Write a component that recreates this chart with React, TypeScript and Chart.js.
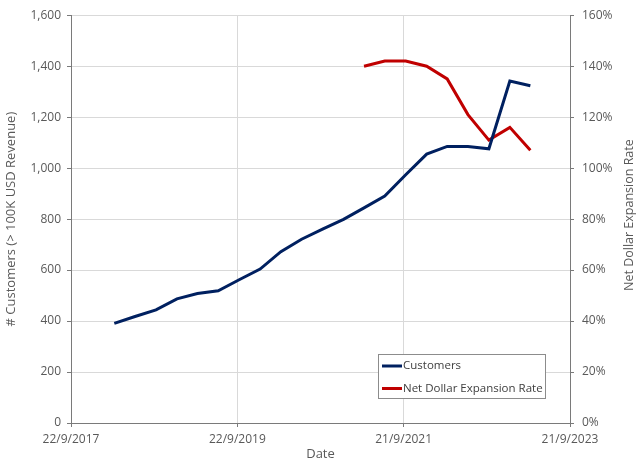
import React, { useEffect, useRef } from "react";
import { Chart, registerables } from "chart.js";

Chart.register(...registerables);

const quarterDates = [
  "2018-03-31", "2018-06-30", "2018-09-30", "2018-12-31",
  "2019-03-31", "2019-06-30", "2019-09-30", "2019-12-31",
  "2020-03-31", "2020-06-30", "2020-09-30", "2020-12-31",
  "2021-03-31", "2021-06-30", "2021-09-30", "2021-12-31",
  "2022-03-31", "2022-06-30", "2022-09-30", "2022-12-31",
  "2023-03-31",
];
const customers = [391, 418, 444, 487, 508, 519, 562, 604, 672, 721, 761, 799, 844, 890, 974, 1055, 1085, 1085, 1076, 1342, 1323];

const ndrDates = [
  "2021-03-31", "2021-06-30", "2021-09-30", "2021-12-31",
  "2022-03-31", "2022-06-30", "2022-09-30", "2022-12-31",
  "2023-03-31",
];
const ndrPercent = [140, 142, 142, 140, 135, 121, 111, 116, 107];

const seriesNames = ["Customers", "Net Dollar Expansion Rate"];
const seriesColors = ["#002060", "#C00000"];
const rightAxisTitle = "Net Dollar Expansion Rate";

const axisStart = "2017-09-22";
const axisSpanDays = 2190;
const axisStepDays = 730;

const DAY = 86400000;
const startMs = Date.parse(axisStart + "T00:00:00Z");
const toDay = (s: string) => Math.round((Date.parse(s + "T00:00:00Z") - startMs) / DAY);
const fmtDay = (d: number) => {
  const dt = new Date(startMs + d * DAY);
  return `${dt.getUTCDate()}/${dt.getUTCMonth() + 1}/${dt.getUTCFullYear()}`;
};

const FONT = "'Open Sans', 'Liberation Sans', sans-serif";
const TICK_COLOR = "#595959";
const AXIS_COLOR = "#7a7a7a";
const GRID_COLOR = "#d9d9d9";

const legendBoxPlugin = {
  id: "legendBox",
  afterDraw(chart: any) {
    const { ctx, chartArea } = chart;
    const w = 167;
    const h = 44;
    const x = chartArea.right - 25 - w;
    const y = chartArea.bottom - 25 - h;
    ctx.save();
    ctx.fillStyle = "#ffffff";
    ctx.fillRect(x, y, w, h);
    ctx.strokeStyle = "#8c8c8c";
    ctx.lineWidth = 1;
    ctx.strokeRect(x + 0.5, y + 0.5, w, h);
    ctx.font = `11.5px ${FONT}`;
    ctx.textBaseline = "middle";
    chart.data.datasets.forEach((ds: any, i: number) => {
      const ly = y + 12 + i * 22.5;
      ctx.strokeStyle = ds.borderColor;
      ctx.lineWidth = 3;
      ctx.beginPath();
      ctx.moveTo(x + 4, ly);
      ctx.lineTo(x + 24, ly);
      ctx.stroke();
      ctx.fillStyle = "#404040";
      ctx.fillText(ds.label, x + 25, ly);
    });
    // right axis title, reading bottom-to-top
    ctx.font = `12.5px ${FONT}`;
    ctx.fillStyle = TICK_COLOR;
    ctx.textAlign = "center";
    ctx.textBaseline = "middle";
    ctx.translate(chart.width - 11, (chartArea.top + chartArea.bottom) / 2 - 4);
    ctx.rotate(-Math.PI / 2);
    ctx.fillText(rightAxisTitle, 0, 0);
    ctx.restore();
  },
};

export default function App() {
  const canvasRef = useRef<HTMLCanvasElement | null>(null);

  useEffect(() => {
    if (!canvasRef.current) return;
    const chart = new Chart(canvasRef.current, {
      type: "line",
      data: {
        datasets: [
          {
            label: seriesNames[0],
            data: quarterDates.map((d, i) => ({ x: toDay(d), y: customers[i] })),
            borderColor: seriesColors[0],
            backgroundColor: seriesColors[0],
            borderWidth: 3,
            pointRadius: 0,
            tension: 0,
            yAxisID: "y",
          },
          {
            label: seriesNames[1],
            data: ndrDates.map((d, i) => ({ x: toDay(d), y: ndrPercent[i] })),
            borderColor: seriesColors[1],
            backgroundColor: seriesColors[1],
            borderWidth: 3,
            pointRadius: 0,
            tension: 0,
            yAxisID: "y1",
          },
        ],
      },
      options: {
        animation: false,
        responsive: false,
        layout: { padding: { top: 13, left: 0, right: 0, bottom: 0 } },
        plugins: {
          legend: { display: false },
          tooltip: { enabled: false },
        },
        scales: {
          x: {
            type: "linear",
            min: 0,
            max: axisSpanDays,
            afterFit: (s: any) => { s.height = 42; },
            ticks: {
              stepSize: axisStepDays,
              color: TICK_COLOR,
              font: { family: FONT, size: 12 },
              padding: 5,
              maxRotation: 0,
              callback: (v: any) => fmtDay(Number(v)),
            },
            grid: { color: GRID_COLOR, tickColor: AXIS_COLOR, tickLength: 4 },
            border: { color: AXIS_COLOR, width: 1 },
            title: {
              display: true,
              text: "Date",
              color: TICK_COLOR,
              font: { family: FONT, size: 13 },
              padding: { top: 0, bottom: 3 },
            },
          },
          y: {
            type: "linear",
            position: "left",
            min: 0,
            max: 1600,
            afterFit: (s: any) => { s.width = 71; },
            ticks: {
              stepSize: 200,
              color: TICK_COLOR,
              font: { family: FONT, size: 12 },
              padding: 6,
              callback: (v: any) => Number(v).toLocaleString("en-US"),
            },
            grid: { color: GRID_COLOR, tickColor: AXIS_COLOR, tickLength: 4 },
            border: { color: AXIS_COLOR, width: 1 },
            title: {
              display: true,
              text: "# Customers (> 100K USD Revenue)",
              color: TICK_COLOR,
              font: { family: FONT, size: 13 },
              padding: { top: 3, bottom: 0 },
            },
          },
          y1: {
            type: "linear",
            position: "right",
            min: 0,
            max: 160,
            afterFit: (s: any) => { s.width = 70; },
            ticks: {
              stepSize: 20,
              color: TICK_COLOR,
              font: { family: FONT, size: 12 },
              padding: 8,
              callback: (v: any) => `${v}%`,
            },
            grid: { drawOnChartArea: false, tickColor: AXIS_COLOR, tickLength: 4 },
            border: { color: AXIS_COLOR, width: 1 },
            title: { display: false },
          },
        },
      },
      plugins: [legendBoxPlugin],
    } as any);
    return () => chart.destroy();
  }, []);

  return (
    <div style={{ position: "absolute", left: 0, top: 0, width: 640, height: 465, background: "#fff" }}>
      <canvas ref={canvasRef} width={640} height={465} />
    </div>
  );
}
